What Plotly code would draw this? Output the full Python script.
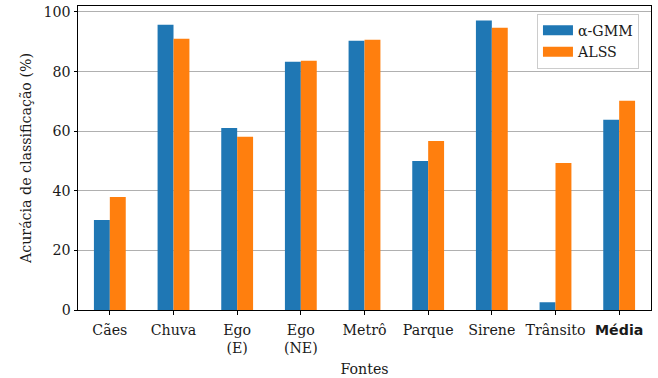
import plotly.graph_objects as go

# Classification accuracy (%) per sound source
fontes = ["Cães", "Chuva", "Ego (E)", "Ego (NE)", "Metrô", "Parque", "Sirene", "Trânsito", "Média"]
rotulos = ["Cães", "Chuva", "Ego<br>(E)", "Ego<br>(NE)", "Metrô", "Parque", "Sirene", "Trânsito",
           "<span style=\"font-family:'DejaVu Sans'\"><b>Média</b></span>"]
alpha_gmm = [30.2, 95.7, 61.1, 83.3, 90.3, 50.0, 97.1, 2.6, 63.8]
alss = [37.9, 91.0, 58.1, 83.6, 90.7, 56.7, 94.7, 49.3, 70.2]
y_ticks = [0, 20, 40, 60, 80, 100]

AZUL = "#1f77b4"
LARANJA = "#ff7f0e"
FONTE = "DejaVu Serif"
TEXTO = "#1a1a1a"

fig = go.Figure()
fig.add_trace(go.Bar(x=fontes, y=alpha_gmm, name="α-GMM", marker=dict(color=AZUL, line=dict(width=0)),
                     showlegend=False))
fig.add_trace(go.Bar(x=fontes, y=alss, name="ALSS", marker=dict(color=LARANJA, line=dict(width=0)),
                     showlegend=False))
# legend entries drawn as wide patches
for nome, cor in [("α-GMM", AZUL), ("ALSS", LARANJA)]:
    fig.add_trace(go.Scatter(x=[None], y=[None], mode="lines", name=nome,
                             line=dict(color=cor, width=10), showlegend=True))

fig.update_layout(
    width=658, height=378,
    margin=dict(l=78, r=7, t=6, b=68),
    paper_bgcolor="white", plot_bgcolor="white",
    font=dict(family=FONTE, size=14.2, color=TEXTO),
    barmode="group", bargap=0.5, bargroupgap=0,
    legend=dict(x=0.979, xanchor="right", y=0.975, yanchor="top",
                bgcolor="rgba(255,255,255,0.8)", bordercolor="#cccccc", borderwidth=1,
                font=dict(family=FONTE, size=14.2, color=TEXTO), tracegroupgap=0),
    xaxis=dict(
        range=[-0.5, 8.5], tickmode="array", tickvals=fontes, ticktext=rotulos,
        ticks="outside", ticklen=3.5, tickwidth=1, tickcolor="black", ticklabelstandoff=3,
        showline=True, linecolor="black", linewidth=1, mirror=True,
        showgrid=False, zeroline=False, automargin=False,
        title=dict(text="Fontes", standoff=9, font=dict(family=FONTE, size=14.2)),
    ),
    yaxis=dict(
        range=[0, 102], tickmode="array", tickvals=y_ticks,
        ticks="outside", ticklen=3.5, tickwidth=1, tickcolor="black",
        showline=True, linecolor="black", linewidth=1, mirror=True,
        showgrid=True, gridcolor="#b0b0b0", gridwidth=0.8, zeroline=False, automargin=False,
        title=dict(text="Acurácia de classificação (%)", standoff=8, font=dict(family=FONTE, size=14.2)),
    ),
)

fig.write_html("out.html")
